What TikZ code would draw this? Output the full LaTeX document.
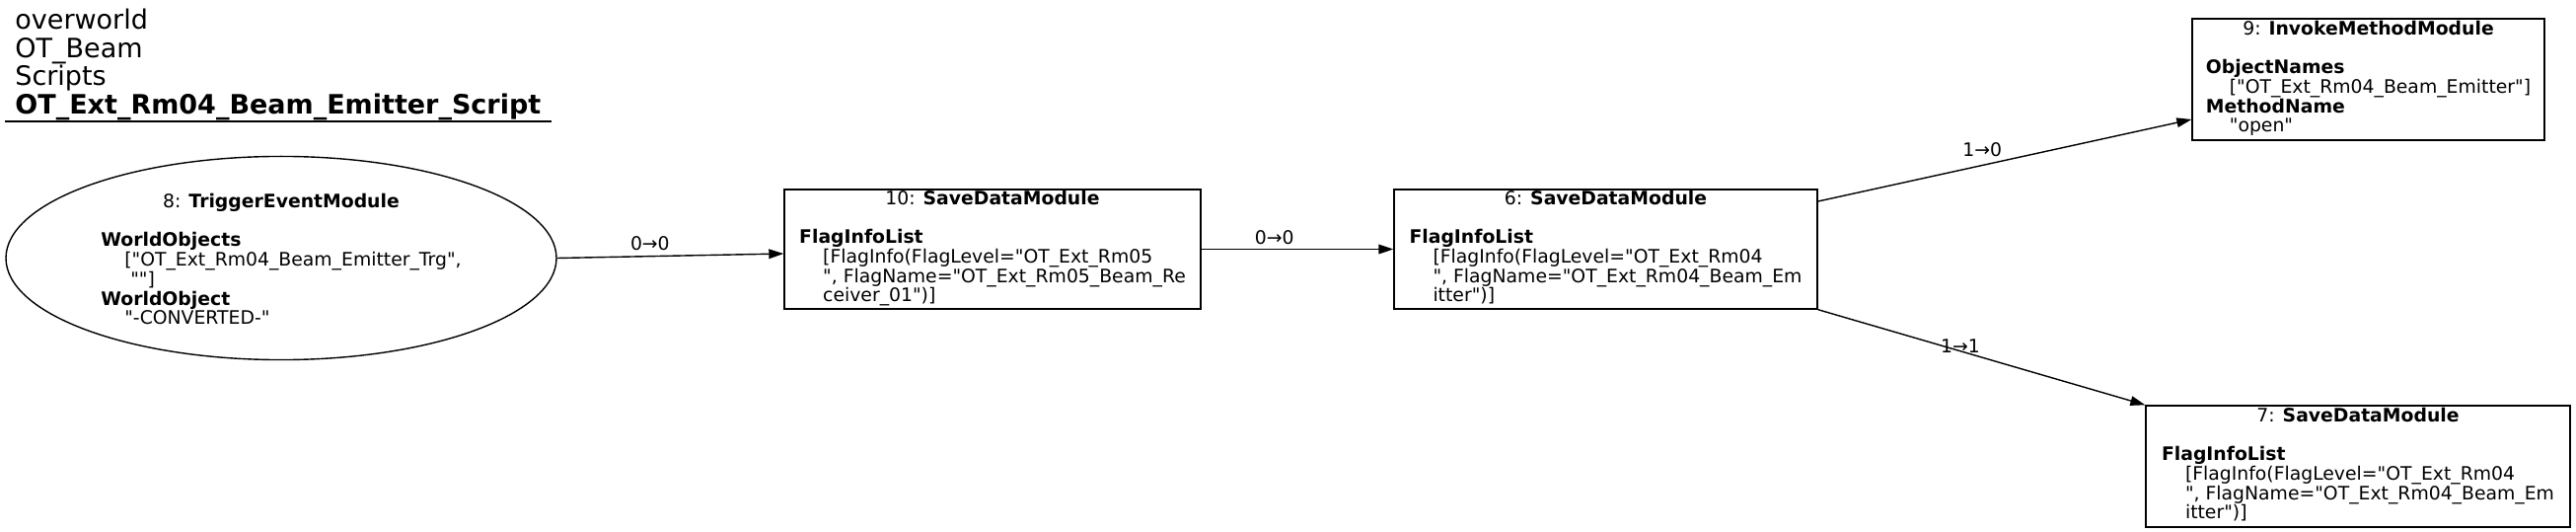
\documentclass[tikz,border=0pt]{standalone}
\usepackage{fontspec}
\setmainfont{DejaVu Sans}[Ligatures=TeXOff]
\usetikzlibrary{arrows.meta,shapes.geometric}
\newcommand{\modhead}[2]{\multicolumn{1}{@{}c@{}}{#1: \textbf{#2}}}
\newcommand{\pind}{\hspace*{12pt}}

\begin{document}
\begin{tikzpicture}[x=0.5pt,y=-0.5pt,
  every node/.style={font=\fontsize{9.4}{9.35}\selectfont},
  modbox/.style={draw,line width=0.7pt,rectangle,inner sep=0pt,minimum height=60.5pt},
  trigger/.style={draw,line width=0.7pt,ellipse,inner sep=0pt,minimum width=279pt,minimum height=101pt},
  edge/.style={line width=0.7pt,-{Triangle[length=7.5pt,width=4.8pt]}},
  lbl/.style={inner sep=0pt}]
\useasboundingbox (0,0) rectangle (2611,539);
\node[anchor=base west,inner sep=0pt,font=\fontsize{13.5}{13.5}\selectfont] (head)
  at (15,30) {\begin{tabular}[t]{@{}l@{}}overworld\\OT\_Beam\\Scripts\\\textbf{OT\_Ext\_Rm04\_Beam\_Emitter\_Script}\end{tabular}};
\draw[line width=0.8pt]
  (5,123) -- (559,123);
\node[trigger] (n8) at (285,261.5) {\raisebox{0pt}[\dimexpr\height+4pt\relax]{\begin{tabular}{@{}l@{}}\modhead{8}{TriggerEventModule}\\ \\
  \textbf{WorldObjects}\\ \pind["OT\_Ext\_Rm04\_Beam\_Emitter\_Trg",\\ \pind\ ""]\\
  \textbf{WorldObject}\\ \pind"-CONVERTED-"\end{tabular}}};
\node[modbox,minimum width=211pt] (n10) at (1006,252.5) {\begin{tabular}{@{}l@{}}\modhead{10}{SaveDataModule}\\ \\
  \textbf{FlagInfoList}\\ \pind[FlagInfo(FlagLevel="OT\_Ext\_Rm05\\ \pind", FlagName="OT\_Ext\_Rm05\_Beam\_Re\\
  \pind ceiver\_01")]\end{tabular}};
\node[modbox,minimum width=214.5pt] (n6) at (1627.5,252.5) {\begin{tabular}{@{}l@{}}\modhead{6}{SaveDataModule}\\ \\
  \textbf{FlagInfoList}\\ \pind[FlagInfo(FlagLevel="OT\_Ext\_Rm04\\ \pind", FlagName="OT\_Ext\_Rm04\_Beam\_Em\\
  \pind itter")]\end{tabular}};
\node[modbox,minimum width=178.5pt,minimum height=61.5pt] (n9) at (2400.5,80.5) {\begin{tabular}{@{}l@{}}\modhead{9}{InvokeMethodModule}\\ \\
  \textbf{ObjectNames}\\ \pind["OT\_Ext\_Rm04\_Beam\_Emitter"]\\
  \textbf{MethodName}\\ \pind"open"\end{tabular}};
\node[modbox,minimum width=215pt,minimum height=61.5pt] (n7) at (2390,472.5) {\begin{tabular}{@{}l@{}}\modhead{7}{SaveDataModule}\\ \\
  \textbf{FlagInfoList}\\ \pind[FlagInfo(FlagLevel="OT\_Ext\_Rm04\\ \pind", FlagName="OT\_Ext\_Rm04\_Beam\_Em\\
  \pind itter")]\end{tabular}};
\draw[edge]
  (n8.east) -- ([yshift=-2.25pt]n10.west) node[lbl,pos=.41,yshift=6.5pt] {0→0};
\draw[edge]
  (n10.east) -- (n6.west) node[lbl,pos=.38,yshift=6pt] {0→0};
\draw[edge]
  ([yshift=24.25pt]n6.east) -- ([yshift=-20.25pt]n9.west) node[lbl,pos=.44,yshift=8pt] {1→0};
\draw[edge]
  (n6.south east) -- (n7.north west) node[lbl,pos=.435,yshift=2.3pt] {1→1};
\end{tikzpicture}
\end{document}
